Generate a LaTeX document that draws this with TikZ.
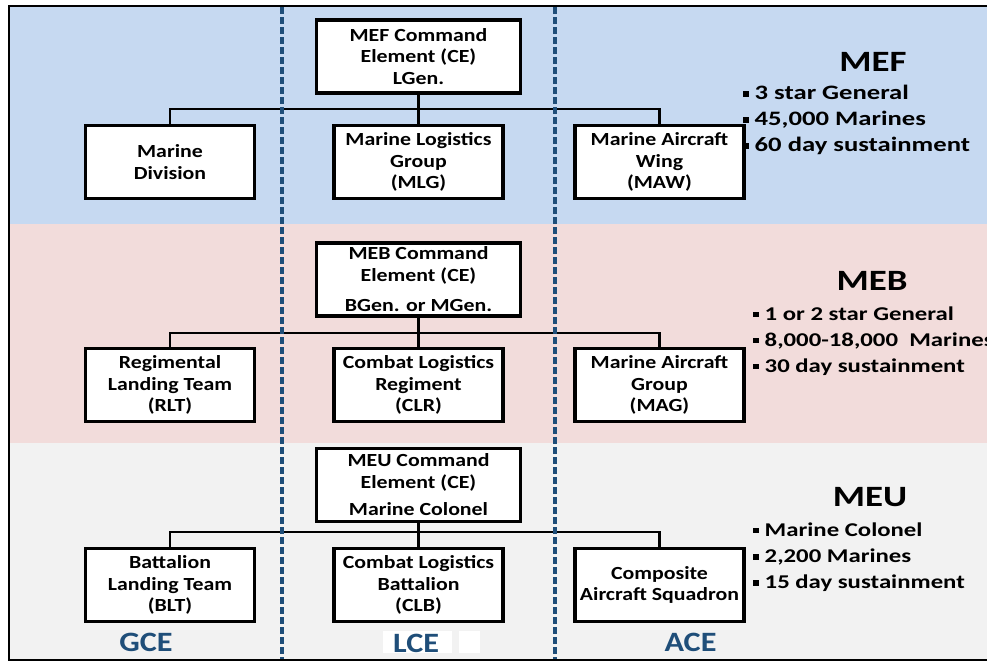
\documentclass[tikz,border=0pt]{standalone}
\usepackage{fontspec}
\setmainfont{Carlito}[FakeStretch=1.15]
\newfontfamily\boxfam{Carlito}[FakeStretch=1.18]
\newfontfamily\titlefam{Carlito}[FakeStretch=1.25]
\newfontfamily\bigfactfam{Carlito}[FakeStretch=1.3]
\newfontfamily\factfam{Carlito}[FakeStretch=1.27]
\definecolor{mefblue}{HTML}{C6D9F1}
\definecolor{mebpink}{HTML}{F2DCDB}
\definecolor{meugray}{HTML}{F2F2F2}
\definecolor{divblue}{HTML}{1F4E79}
\newcommand\boxtext{\boxfam\fontsize{18.5}{21.5}\selectfont\bfseries}
\newcommand\titletext{\titlefam\fontsize{29.5}{31}\selectfont\bfseries}
\newcommand\labeltext{\fontsize{28}{30}\selectfont\bfseries}
\newcommand\bigfacttext{\bigfactfam\fontsize{20.5}{24}\selectfont\bfseries}
\newcommand\facttext{\factfam\fontsize{19.5}{23}\selectfont\bfseries}
\newcommand\sq{\rule[2.8pt]{5.5pt}{5.5pt}\hspace{6pt}}
\begin{document}
\begin{tikzpicture}[x=1pt,y=-1pt,
  unitbox/.style={draw=black, line width=3.1pt, fill=white, minimum width=169pt,
    minimum height=73pt, inner sep=0pt, align=center, font=\boxtext},
  cmdbox/.style={unitbox, minimum width=204pt, minimum height=73pt},
  link/.style={line width=2.6pt, draw=black},
  divider/.style={draw=divblue, line width=3.4pt, dash pattern=on 6.5pt off 3.5pt},
  heading/.style={anchor=base, inner sep=0pt, font=\titletext},
  bigfact/.style={anchor=base west, inner sep=0pt, font=\bigfacttext},
  fact/.style={anchor=base west, inner sep=0pt, font=\facttext},
  element/.style={anchor=base, inner sep=0pt, font=\labeltext, text=divblue}]
\useasboundingbox (0,0) rectangle (987,664);
\clip (0,0) rectangle (987,664);

% level bands
\fill[mefblue] (9,6) rectangle (1000,224);
\fill[mebpink] (9,224) rectangle (1000,443);
\fill[meugray] (9,443) rectangle (1000,660);

% MEF level
\node[cmdbox] (mefce) at (418.5,56.5) {MEF Command\\Element (CE)\\LGen.};
\node[unitbox] (mefg) at (170,162) {Marine\\Division};
\node[unitbox] (mefl) at (418.5,162) {Marine Logistics\\Group\\(MLG)};
\node[unitbox] (mefa) at (659.5,162) {Marine Aircraft\\Wing\\(MAW)};
\coordinate (mefbus) at (418.5,109);

% MEB level
\node[cmdbox] (mebce) at (418.5,279.5) {MEB Command\\Element (CE)\\[9pt]BGen. or MGen.};
\node[unitbox] (mebg) at (170,385) {Regimental\\Landing Team\\(RLT)};
\node[unitbox] (mebl) at (418.5,385) {Combat Logistics\\Regiment\\(CLR)};
\node[unitbox] (meba) at (659.5,385) {Marine Aircraft\\Group\\(MAG)};
\coordinate (mebbus) at (418.5,333);

% MEU level
\node[cmdbox] (meuce) at (418.5,485) {MEU Command\\Element (CE)\\[6pt]Marine Colonel};
\node[unitbox] (meug) at (170,585) {Battalion\\Landing Team\\(BLT)};
\node[unitbox] (meul) at (418.5,585) {Combat Logistics\\Battalion\\(CLB)};
\node[unitbox] (meua) at (659.5,585) {Composite\\Aircraft Squadron};
\coordinate (meubus) at (418.5,532);

% connectors
\foreach \lv in {mef,meb,meu}{
  \draw[link] (\lv g.north) |- (\lv bus) -| (\lv a.north);
  \draw[link] (\lv ce.south) -- (\lv l.north);
}

% element dividers
\coordinate (divAtop) at (282,7);
\coordinate (divAbot) at (282,660);
\coordinate (divBtop) at (555,7);
\coordinate (divBbot) at (555,660);
\draw[divider] (divAtop) -- (divAbot);
\draw[divider] (divBtop) -- (divBbot);

% level summaries
\node[heading] (meft) at (873,71.5) {MEF};
\node[bigfact] (mef1) at (743,99.5) {\sq 3 star General};
\node[bigfact] (mef2) at (743,125.5) {\sq 45,000 Marines};
\node[bigfact] (mef3) at (743,151.5) {\sq 60 day sustainment};

\node[heading] (mebt) at (872,290) {MEB};
\node[fact] (meb1) at (753,320) {\sq 1 or 2 star General};
\node[fact] (meb2) at (753,346) {\sq 8,000-18,000\ \ Marines};
\node[fact] (meb3) at (753,372) {\sq 30 day sustainment};

\node[heading] (meut) at (870,506.5) {MEU};
\node[fact] (meu1) at (753,536) {\sq Marine Colonel};
\node[fact] (meu2) at (753,562.5) {\sq 2,200 Marines};
\node[fact] (meu3) at (753,588.5) {\sq 15 day sustainment};

% element labels
\fill[white] (383,631) rectangle (452,653);
\fill[white] (459,631) rectangle (480,653);
\node[element] (gce) at (146,651.5) {GCE};
\node[element] (lce) at (416,652.5) {LCE};
\node[element] (ace) at (690.5,651.5) {ACE};

% outer frame
\draw[line width=2.5pt] (9,6) rectangle (1000,660);
\end{tikzpicture}
\end{document}
